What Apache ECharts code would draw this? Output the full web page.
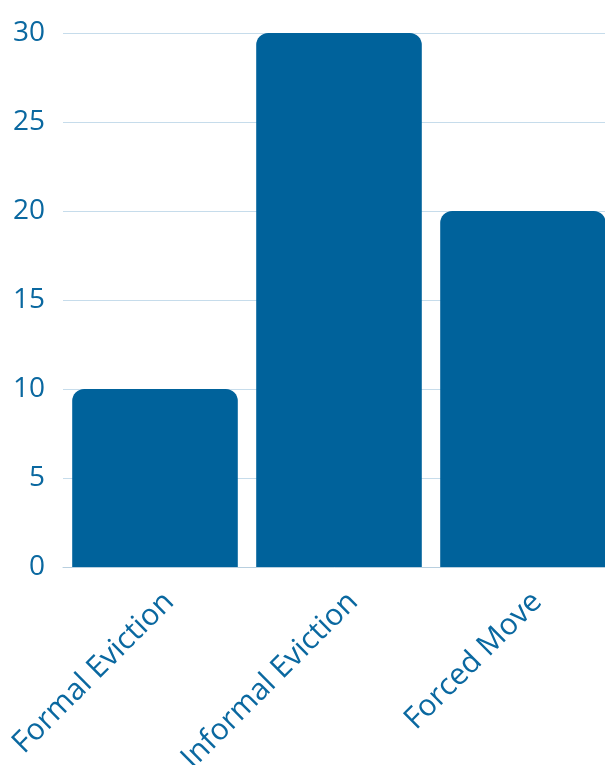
<!DOCTYPE html>
<html><head><meta charset="utf-8">
<script src="https://cdn.jsdelivr.net/npm/echarts@6/dist/echarts.min.js"></script>
<style>html,body{margin:0;padding:0;background:#fff}#c{width:605px;height:765px}</style>
</head><body><div id="c"></div>
<script>
var categories = ['Formal Eviction', 'Informal Eviction', 'Forced Move'];
var values = [10, 30, 20];
var yTicks = [0, 5, 10, 15, 20, 25, 30];

var chart = echarts.init(document.getElementById('c'), null, {renderer: 'canvas'});
chart.setOption({
  animation: false,
  grid: {left: 63, width: 552, top: 33, bottom: 198, containLabel: false, outerBoundsMode: 'none'},
  xAxis: {
    type: 'category', data: categories,
    axisLine: {show: true, lineStyle: {color: '#b8cfdf', width: 1}},
    axisTick: {show: false},
    axisLabel: {rotate: 45, color: '#0a68a0', fontSize: 30, fontFamily: 'Open Sans', margin: 16,
      interval: 0, verticalAlign: 'top', lineHeight: 40}
  },
  yAxis: {
    type: 'value', min: yTicks[0], max: yTicks[yTicks.length - 1], interval: 5,
    axisLine: {show: false}, axisTick: {show: false},
    axisLabel: {color: '#0a68a0', fontSize: 28, fontFamily: 'Open Sans', margin: 18},
    splitLine: {lineStyle: {color: '#c6dceb', width: 1}}
  },
  series: [{
    type: 'bar', data: values, barCategoryGap: '10%',
    itemStyle: {color: '#00629b', borderRadius: [12, 12, 0, 0]}
  }]
});
</script></body></html>
